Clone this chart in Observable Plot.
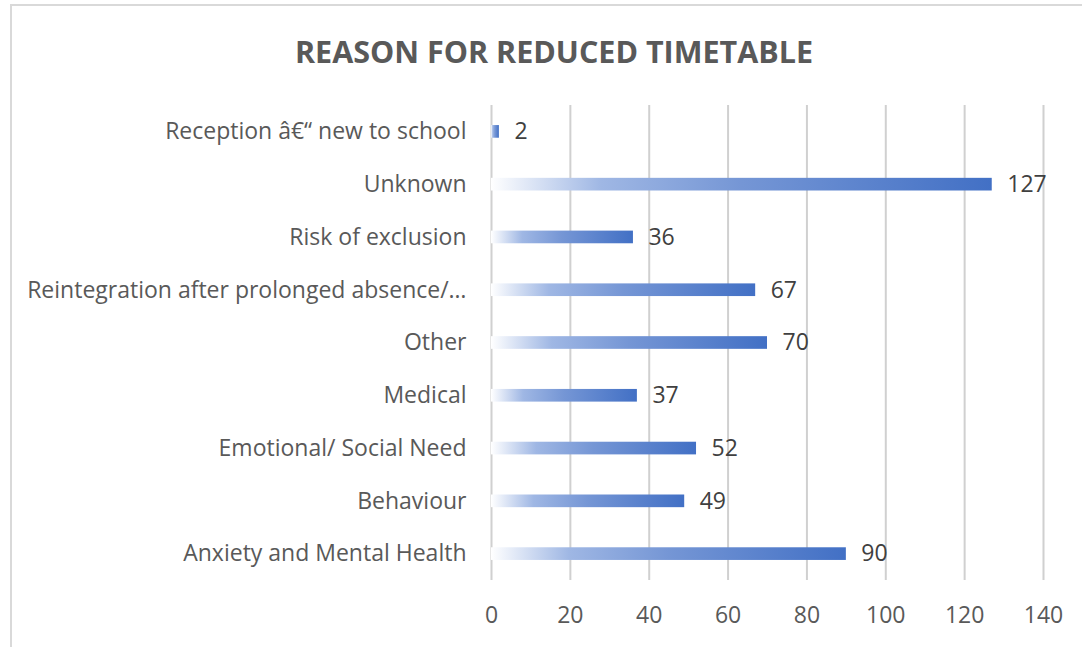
<!DOCTYPE html>
<html>
<head>
<meta charset="utf-8">
<script src="https://cdn.jsdelivr.net/npm/d3@7"></script>
<script src="https://cdn.jsdelivr.net/npm/@observablehq/plot@0.6"></script>
<style>
  html, body { margin: 0; padding: 0; background: #fff; }
  #wrap { position: relative; width: 1082px; height: 647px; overflow: hidden; font-family: "Open Sans", sans-serif; }
  #frame { position: absolute; left: 10px; top: 4px; width: 1100px; height: 700px; border-left: 2px solid #d9d9d9; border-top: 2px solid #d9d9d9; box-sizing: border-box; }
  #title { position: absolute; left: 13px; width: 1082px; top: 32px; text-align: center; font-size: 30.5px; line-height: 38px; font-weight: 700; color: #595959; letter-spacing: 0px; }
  #chart { position: absolute; left: 0; top: 0; }
</style>
</head>
<body>
<div id="wrap">
  <div id="frame"></div>
  <div id="chart"></div>
  <div id="title">REASON FOR REDUCED TIMETABLE</div>
</div>
<script>
const categories = [
  "Reception â€\u201C new to school",
  "Unknown",
  "Risk of exclusion",
  "Reintegration after prolonged absence/…",
  "Other",
  "Medical",
  "Emotional/ Social Need",
  "Behaviour",
  "Anxiety and Mental Health"
];
const values = [2, 127, 36, 67, 70, 37, 52, 49, 90];
const xTicks = [0, 20, 40, 60, 80, 100, 120, 140];

const data = categories.map((c, i) => ({category: c, value: values[i]}));

const chart = Plot.plot({
  width: 1082,
  height: 647,
  marginLeft: 491,
  marginRight: 39,
  marginTop: 105,
  marginBottom: 67,
  style: {fontFamily: "'Open Sans', sans-serif", background: "transparent"},
  x: {domain: [0, 140], ticks: xTicks},
  y: {domain: categories, paddingInner: 0.76, paddingOuter: 0.38, round: false},
  marks: [
    Plot.ruleX(xTicks, {stroke: "#d0d0d0", strokeWidth: 2, strokeOpacity: 1}),
    Plot.barX(data, {x: "value", y: "category", fill: "url(#barGrad)"}),
    Plot.text(data, {x: "value", y: "category", text: d => String(d.value), textAnchor: "start", dx: 15, fontSize: 23, fill: "#404040"}),
    Plot.axisY({tickSize: 0, tickPadding: 25, fontSize: 23, color: "#595959", label: null}),
    Plot.axisX({ticks: xTicks, tickSize: 0, tickPadding: 26, fontSize: 23, color: "#595959", label: null})
  ]
});

// gradient definition for the bars
const ns = "http://www.w3.org/2000/svg";
const defs = document.createElementNS(ns, "defs");
const grad = document.createElementNS(ns, "linearGradient");
grad.setAttribute("id", "barGrad");
grad.setAttribute("x1", "0"); grad.setAttribute("y1", "0");
grad.setAttribute("x2", "1"); grad.setAttribute("y2", "0");
[[0, "#ffffff"], [0.22, "#9fb7e4"], [0.5, "#7596d5"], [1, "#4270c5"]].forEach(([o, c]) => {
  const s = document.createElementNS(ns, "stop");
  s.setAttribute("offset", o);
  s.setAttribute("stop-color", c);
  grad.appendChild(s);
});
defs.appendChild(grad);
chart.insertBefore(defs, chart.firstChild);

document.getElementById("chart").appendChild(chart);
</script>
</body>
</html>
